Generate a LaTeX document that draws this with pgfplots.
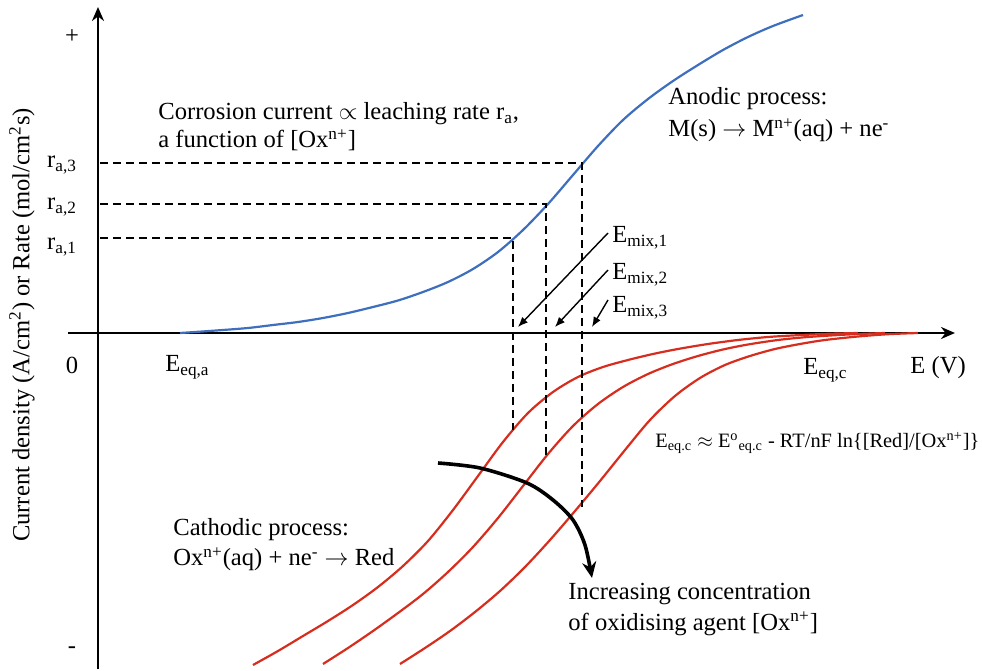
\documentclass[border=0pt]{standalone}
\usepackage{pgfplots}
\pgfplotsset{compat=1.18}
\usepackage{fontspec}
\setmainfont{Liberation Serif}
\usetikzlibrary{arrows.meta}
\definecolor{anod}{RGB}{62,110,190}
\definecolor{cath}{RGB}{215,45,30}
\begin{document}
\begin{tikzpicture}[font=\fontsize{12.3}{14.8}\selectfont]
\begin{axis}[
  scale only axis, width=443.5pt, height=331pt,
  xmin=-30, xmax=857, ymin=-336, ymax=326,
  axis lines=middle, clip=false,
  xtick=\empty, ytick=\empty,
  axis line style={line width=1.3pt},
  x axis line style={-{Stealth[length=7pt,width=6pt]}},
  y axis line style={-{Stealth[length=7pt,width=6pt]}},
]
% invisible frame = full picture
\path (axis cs:-98,-336) rectangle (axis cs:884,333);

% anodic curve
\addplot[anod, line width=1.1pt, smooth] coordinates {
(82,0) (100,1.2) (125,3) (150,5) (175,8) (200,11) (225,15) (250,20)
(275,26) (300,32.5) (325,41) (350,51) (375,64) (400,81) (425,103) (450,129)
(475,158) (500,187) (525,213) (550,234) (575,252) (600,268) (625,283)
(650,296) (675,307) (705,318)};

% cathodic curves
\addplot[cath, line width=1.1pt, smooth] coordinates {
(155,-332) (180,-318) (205,-303) (230,-288) (255,-272) (280,-254) (305,-233)
(330,-208) (355,-177) (380,-143) (405,-109) (430,-80) (455,-59) (480,-44)
(505,-34) (530,-27) (555,-21) (580,-16) (610,-11) (640,-7) (670,-4)
(700,-2.2) (730,-0.8) (760,0)};
\addplot[cath, line width=1.1pt, smooth] coordinates {
(225,-331) (250,-315) (275,-298) (300,-280) (325,-261) (350,-239) (375,-214)
(400,-185) (425,-153) (450,-121) (475,-93) (500,-71) (525,-54) (550,-41)
(575,-31) (600,-23) (625,-16.5) (650,-11.5) (680,-7) (710,-4) (750,-1.5) (787,0)};
\addplot[cath, line width=1.1pt, smooth] coordinates {
(302,-331) (327,-315) (352,-298) (377,-279) (402,-258) (427,-234) (452,-207)
(477,-178) (502,-148) (527,-117) (552,-87) (577,-63) (602,-45) (627,-32)
(652,-23) (677,-16) (702,-11) (727,-7) (760,-3.5) (790,-1.2) (820,0)};

% dashed construction lines
\addplot[black, line width=0.9pt, dash pattern=on 4pt off 2.5pt] coordinates {(2,95) (415,95) (415,-97)};
\addplot[black, line width=0.9pt, dash pattern=on 4pt off 2.5pt] coordinates {(2,129) (448,129) (448,-122)};
\addplot[black, line width=0.9pt, dash pattern=on 4pt off 2.5pt] coordinates {(2,170) (484,170) (484,-174)};

% E_mix arrows
\addplot[black, line width=0.7pt, -{Latex[length=5pt,width=4pt]}] coordinates {(510,100) (420,6)};
\addplot[black, line width=0.7pt, -{Latex[length=5pt,width=4pt]}] coordinates {(510,63) (457,6)};
\addplot[black, line width=0.7pt, -{Latex[length=5pt,width=4pt]}] coordinates {(510,33) (494,6)};

% curved concentration arrow
\addplot[black, line width=1.8pt, smooth, -{Stealth[length=8pt,width=7pt]}] coordinates {
(340,-130) (382,-135) (429,-150) (455,-167) (475,-187) (487,-212) (494,-245)};

% texts
\node at (axis cs:-26,296) {+};
\node at (axis cs:-26,-32) {0};
\node at (axis cs:-26,-317) {-};
\node[rotate=90] at (axis cs:-76,8) {Current density (A/cm\textsuperscript{2}) or Rate (mol/cm\textsuperscript{2}s)};
\node[anchor=base east] at (axis cs:-14,165) {r\textsubscript{a,3}};
\node[anchor=base east] at (axis cs:-14,123) {r\textsubscript{a,2}};
\node[anchor=base east] at (axis cs:-14,83) {r\textsubscript{a,1}};
\node[anchor=base west, inner sep=0pt] at (axis cs:60,213) {Corrosion current $\propto$ leaching rate r\textsubscript{a},};
\node[anchor=base west, inner sep=0pt] at (axis cs:60,185) {a function of [Ox\textsuperscript{n+}]};
\node[anchor=base west, inner sep=0pt] at (axis cs:570,228) {Anodic process:};
\node[anchor=base west, inner sep=0pt] at (axis cs:570,196) {M(s) $\rightarrow$ M\textsuperscript{n+}(aq) + ne\textsuperscript{-}};
\node[anchor=base west, inner sep=0pt] at (axis cs:514,90) {E\textsubscript{mix,1}};
\node[anchor=base west, inner sep=0pt] at (axis cs:514,53) {E\textsubscript{mix,2}};
\node[anchor=base west, inner sep=0pt] at (axis cs:514,20) {E\textsubscript{mix,3}};
\node[anchor=base west, inner sep=0pt] at (axis cs:67,-39) {E\textsubscript{eq,a}};
\node[anchor=base west, inner sep=0pt] at (axis cs:705,-42) {E\textsubscript{eq,c}};
\node[anchor=base west, inner sep=0pt] at (axis cs:812,-41) {E (V)};
\node[anchor=base west, inner sep=0pt, font=\fontsize{10.2}{12.5}\selectfont] at (axis cs:557,-115) {E\textsubscript{eq.c} $\approx$ E\textsuperscript{o}\textsubscript{eq.c} - RT/nF ln\{[Red]/[Ox\textsuperscript{n+}]\}};
\node[anchor=base west, inner sep=0pt] at (axis cs:75,-203) {Cathodic process:};
\node[anchor=base west, inner sep=0pt] at (axis cs:75,-233) {Ox\textsuperscript{n+}(aq) + ne\textsuperscript{-} $\rightarrow$ Red};
\node[anchor=base west, inner sep=0pt] at (axis cs:470,-267) {Increasing concentration};
\node[anchor=base west, inner sep=0pt] at (axis cs:470,-297) {of oxidising agent [Ox\textsuperscript{n+}]};
\end{axis}
\end{tikzpicture}
\end{document}
